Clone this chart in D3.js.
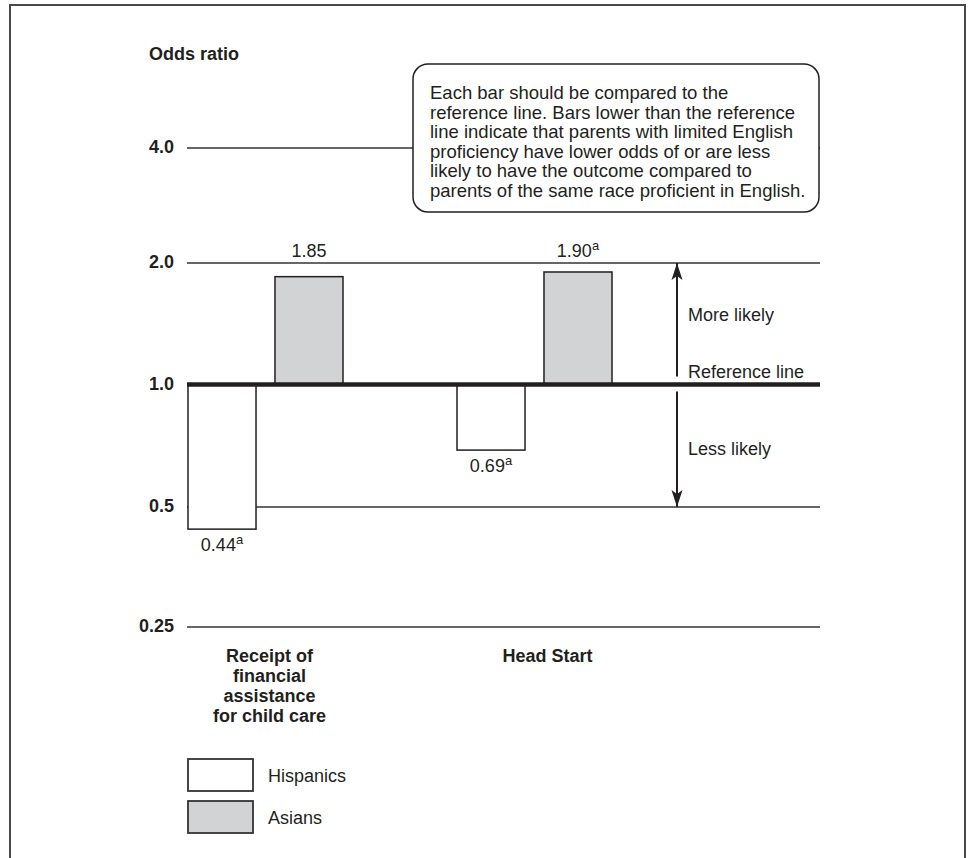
<!DOCTYPE html>
<html>
<head>
<meta charset="utf-8">
<script src="https://cdn.jsdelivr.net/npm/d3@7"></script>
<style>
  body { margin: 0; background: #fff; }
  svg { display: block; font-family: "Liberation Sans", Arial, Helvetica, sans-serif; }
</style>
</head>
<body>
<svg id="chart" width="972" height="858"></svg>
<script>
const categories = ["Receipt of financial assistance for child care", "Head Start"];
const categoryLines = [["Receipt of", "financial", "assistance", "for child care"], ["Head Start"]];
const series = ["Hispanics", "Asians"];
const hispanics = [0.44, 0.69];
const asians = [1.85, 1.90];
const hispanicLabels = ["0.44", "0.69"];
const asianLabels = ["1.85", "1.90"];
const hispanicSup = [true, true];
const asianSup = [false, true];
const tickValues = [0.25, 0.5, 1, 2, 4];
const tickLabels = ["0.25", "0.5", "1.0", "2.0", "4.0"];
const noteLines = [
  "Each bar should be compared to the",
  "reference line. Bars lower than the reference",
  "line indicate that parents with limited English",
  "proficiency have lower odds of or are less",
  "likely to have the outcome compared to",
  "parents of the same race proficient in English."
];

const ink = "#231f20";
const grey = "#d1d3d4";
const colors = { "Hispanics": "#ffffff", "Asians": grey };

const svg = d3.select("#chart");

// outer frame
svg.append("rect")
  .attr("x", 10).attr("y", 5)
  .attr("width", 955).attr("height", 900)
  .attr("fill", "none")
  .attr("stroke", "#4a4a4a")
  .attr("stroke-width", 2);

const left = 187, right = 820;

// log scale, piecewise so the hand drawn 4.0 line lands where it does
const y = d3.scaleLog()
  .domain([0.25, 0.5, 1, 2, 4])
  .range([627, 507, 384.5, 263, 148]);

const x0 = d3.scaleBand()
  .domain(categories)
  .range([131, 669]);

const x1 = d3.scaleBand()
  .domain(series)
  .range([0, 155])
  .paddingInner(0.218);

const groupOffset = (x0.bandwidth() - 155) / 2;

const data = categories.map((c, i) => ({
  category: c,
  values: [
    { key: "Hispanics", value: hispanics[i], label: hispanicLabels[i], sup: hispanicSup[i] },
    { key: "Asians", value: asians[i], label: asianLabels[i], sup: asianSup[i] }
  ]
}));

// gridlines
svg.append("g")
  .selectAll("line")
  .data(tickValues.filter(d => d !== 1))
  .enter()
  .append("line")
  .attr("x1", left).attr("x2", right)
  .attr("y1", d => y(d)).attr("y2", d => y(d))
  .attr("stroke", "#333")
  .attr("stroke-width", 1.3);

// y tick labels
svg.append("g")
  .selectAll("text")
  .data(tickValues)
  .enter()
  .append("text")
  .attr("x", 174)
  .attr("y", d => y(d) + 5)
  .attr("text-anchor", "end")
  .style("font-size", "18px")
  .style("font-weight", "bold")
  .attr("fill", ink)
  .text((d, i) => tickLabels[i]);

svg.append("text")
  .attr("x", 149).attr("y", 60)
  .style("font-size", "18px")
  .style("font-weight", "bold")
  .attr("fill", ink)
  .text("Odds ratio");

// bars
const groups = svg.selectAll(".group")
  .data(data)
  .enter()
  .append("g")
  .attr("class", "group")
  .attr("transform", d => `translate(${x0(d.category) + groupOffset},0)`);

groups.selectAll("rect")
  .data(d => d.values)
  .enter()
  .append("rect")
  .attr("x", d => x1(d.key))
  .attr("width", x1.bandwidth())
  .attr("y", d => Math.min(y(d.value), y(1)))
  .attr("height", d => Math.abs(y(d.value) - y(1)))
  .attr("fill", d => colors[d.key])
  .attr("stroke", ink)
  .attr("stroke-width", 1.5);

const valueText = groups.selectAll(".val")
  .data(d => d.values)
  .enter()
  .append("text")
  .attr("class", "val")
  .attr("x", d => x1(d.key) + x1.bandwidth() / 2)
  .attr("y", d => d.value >= 1 ? y(2) - 6 : y(d.value) + 22)
  .attr("text-anchor", "middle")
  .style("font-size", "18px")
  .attr("fill", ink);

valueText.append("tspan").text(d => d.label);
valueText.filter(d => d.sup)
  .append("tspan")
  .attr("dy", -7)
  .style("font-size", "13px")
  .text("a");

// reference line
svg.append("line")
  .attr("x1", left).attr("x2", right)
  .attr("y1", y(1)).attr("y2", y(1))
  .attr("stroke", ink)
  .attr("stroke-width", 4.5);

// arrows
const defs = svg.append("defs");
defs.append("marker")
  .attr("id", "arrow")
  .attr("viewBox", "0 -6 17 12")
  .attr("refX", 17).attr("refY", 0)
  .attr("markerWidth", 17).attr("markerHeight", 12)
  .attr("markerUnits", "userSpaceOnUse")
  .attr("orient", "auto")
  .append("path")
  .attr("d", "M0,-5.5L17,0L0,5.5L4,0Z")
  .attr("fill", ink);

const arrowX = 677;
svg.append("line")
  .attr("x1", arrowX).attr("x2", arrowX)
  .attr("y1", y(1) - 8).attr("y2", y(2))
  .attr("stroke", ink).attr("stroke-width", 2)
  .attr("marker-end", "url(#arrow)");
svg.append("line")
  .attr("x1", arrowX).attr("x2", arrowX)
  .attr("y1", y(1) + 7).attr("y2", y(0.5))
  .attr("stroke", ink).attr("stroke-width", 2)
  .attr("marker-end", "url(#arrow)");

const sideLabels = [
  { text: "More likely", y: 321 },
  { text: "Reference line", y: 378 },
  { text: "Less likely", y: 455 }
];
svg.append("g")
  .selectAll("text")
  .data(sideLabels)
  .enter()
  .append("text")
  .attr("x", 688)
  .attr("y", d => d.y)
  .style("font-size", "18px")
  .attr("fill", ink)
  .text(d => d.text);

// note box
svg.append("rect")
  .attr("x", 413).attr("y", 64)
  .attr("width", 406).attr("height", 148)
  .attr("rx", 15).attr("ry", 15)
  .attr("fill", "#fff")
  .attr("stroke", ink)
  .attr("stroke-width", 1.5);

svg.append("g")
  .selectAll("text")
  .data(noteLines)
  .enter()
  .append("text")
  .attr("x", 430)
  .attr("y", (d, i) => 99 + i * 19.5)
  .style("font-size", "18.5px")
  .attr("fill", ink)
  .text(d => d);

// category labels
const catLabelShift = [4, 13];
categories.forEach((c, i) => {
  const t = svg.append("text")
    .attr("text-anchor", "middle")
    .style("font-size", "18px")
    .style("font-weight", "bold")
    .attr("fill", ink);
  categoryLines[i].forEach((line, j) => {
    t.append("tspan")
      .attr("x", x0(c) + x0.bandwidth() / 2 + catLabelShift[i])
      .attr("y", 662 + j * 20)
      .text(line);
  });
});

// legend
const legend = svg.append("g")
  .selectAll("g")
  .data(series)
  .enter()
  .append("g")
  .attr("transform", (d, i) => `translate(188,${759 + i * 42})`);

legend.append("rect")
  .attr("width", 65).attr("height", 32)
  .attr("fill", d => colors[d])
  .attr("stroke", "#333")
  .attr("stroke-width", 1.8);

legend.append("text")
  .attr("x", 80).attr("y", 23)
  .style("font-size", "18px")
  .attr("fill", ink)
  .text(d => d);
</script>
</body>
</html>
